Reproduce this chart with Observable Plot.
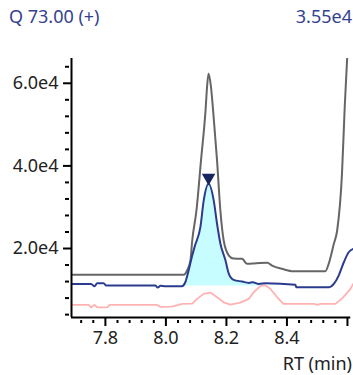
<!DOCTYPE html>
<html>
<head>
<meta charset="utf-8">
<script src="https://cdn.jsdelivr.net/npm/d3@7"></script>
<script src="https://cdn.jsdelivr.net/npm/@observablehq/plot@0.6"></script>
<style>
  html, body { margin: 0; padding: 0; background: #fff; }
  #wrap { position: relative; width: 353px; height: 375px; font-family: "Noto Sans", "Open Sans", sans-serif; }
  .t { position: absolute; font-size: 18px; white-space: nowrap; line-height: 1; }
  #title { left: 9px; top: 7px; color: #34418f; }
  #maxv { right: 1px; top: 7px; color: #34418f; }
  #xlab { right: 1px; top: 354px; color: #222; }
</style>
</head>
<body>
<div id="wrap">
  <div id="chart"></div>
  <div class="t" id="title">Q 73.00 (+)</div>
  <div class="t" id="maxv">3.55e4</div>
  <div class="t" id="xlab">RT (min)</div>
</div>
<script>
// Gray trace (RT in min, intensity)
const grayRT = [7.688, 8.059, 8.070, 8.081, 8.087, 8.101, 8.116, 8.131, 8.136, 8.141, 8.149, 8.156, 8.169, 8.180, 8.191, 8.208, 8.223, 8.252, 8.268, 8.285, 8.335, 8.351, 8.384, 8.422, 8.527, 8.538, 8.555, 8.566, 8.582, 8.591, 8.599, 8.605];
const grayV  = [13620, 13620, 14670, 17090, 21940, 29210, 41330, 53450, 59100, 62350, 59100, 53450, 41330, 29210, 21940, 18300, 17580, 17500, 16290, 16360, 16530, 15880, 15080, 14500, 14500, 16290, 21140, 24360, 38180, 54250, 65990, 75000];

// Blue trace
const blueRT = [7.688, 7.753, 7.764, 7.773, 7.794, 7.803, 7.965, 7.973, 7.982, 7.998, 8.053, 8.064, 8.075, 8.087, 8.096, 8.114, 8.125, 8.141, 8.158, 8.169, 8.180, 8.197, 8.208, 8.224, 8.252, 8.274, 8.287, 8.307, 8.329, 8.428, 8.431, 8.538, 8.555, 8.571, 8.588, 8.604, 8.619];
const blueV  = [11440, 11440, 10860, 11590, 11590, 11030, 11030, 10540, 10960, 10860, 10860, 11830, 14670, 18300, 20700, 25160, 31640, 35680, 31640, 25990, 21210, 17090, 13870, 12410, 12000, 11680, 11830, 11440, 11590, 11200, 10620, 10620, 11440, 13450, 16680, 19100, 19930];

// Pink trace
const pinkRT = [7.688, 7.745, 7.753, 7.764, 7.773, 7.806, 7.814, 7.971, 7.982, 8.020, 8.054, 8.087, 8.103, 8.125, 8.147, 8.169, 8.191, 8.213, 8.246, 8.274, 8.290, 8.312, 8.326, 8.345, 8.368, 8.388, 8.489, 8.500, 8.511, 8.560, 8.582, 8.610, 8.619];
const pinkV  = [6350, 6350, 5770, 6350, 5770, 5770, 6350, 6350, 5870, 5940, 6590, 6670, 7810, 9020, 9330, 8190, 6980, 6420, 6910, 7810, 9410, 10910, 11150, 10230, 8190, 6590, 6590, 6350, 6590, 6590, 7880, 10230, 11440];

// Integrated peak range and baseline, apex
const peakRange = [8.053, 8.329];
const peakBase = 10900;
const apexRT = [8.141];
const apexV = [35680];

// Axes
const xDomain = [7.688, 8.62];
const yDomain = [3300, 66000];
const xMajor = [7.8, 8.0, 8.2, 8.4, 8.6];
const xMajorLabels = ["7.8", "8.0", "8.2", "8.4", ""];
const xMinor = [7.72, 7.76, 7.84, 7.88, 7.92, 7.96, 8.04, 8.08, 8.12, 8.16, 8.24, 8.28, 8.32, 8.36, 8.44, 8.48, 8.52, 8.56];
const yMajor = [20000, 40000, 60000];
const yMajorLabels = ["2.0e4", "4.0e4", "6.0e4"];
const yMinor = [4000, 8000, 12000, 16000, 24000, 28000, 32000, 36000, 44000, 48000, 52000, 56000, 64000];

const rows = (rt, v) => rt.map((t, i) => ({rt: t, v: v[i]}));
const gray = rows(grayRT, grayV);
const blue = rows(blueRT, blueV);
const pink = rows(pinkRT, pinkV);
const peak = blue.filter(d => d.rt >= peakRange[0] && d.rt <= peakRange[1]);
const apex = rows(apexRT, apexV);

const chart = Plot.plot({
  width: 353,
  height: 375,
  marginTop: 58,
  marginBottom: 58,
  marginLeft: 71,
  marginRight: 0,
  x: {domain: xDomain},
  y: {domain: yDomain},
  style: {fontFamily: "'Noto Sans', 'Open Sans', sans-serif", fontSize: "18px", color: "#222", background: "#fff"},
  marks: [
    Plot.areaY(peak, {x: "rt", y1: peakBase, y2: "v", fill: "#c8fdff", curve: "monotone-x"}),
    Plot.lineY(pink, {x: "rt", y: "v", stroke: "#ffb2b2", strokeWidth: 1.8, clip: true}),
    Plot.lineY(gray, {x: "rt", y: "v", stroke: "#666666", strokeWidth: 2, clip: true, curve: "monotone-x"}),
    Plot.lineY(blue, {x: "rt", y: "v", stroke: "#2b3c8e", strokeWidth: 2, clip: true, curve: "monotone-x"}),
    Plot.dot(apex, {x: "rt", y: "v", symbol: "triangle", rotate: 180, r: 5, fill: "#16245f", stroke: null, dy: -6}),
    Plot.axisY({ticks: yMajor, tickSize: 8, tickPadding: 5, tickFormat: d => yMajorLabels[yMajor.indexOf(d)], label: null, stroke: "#000", strokeWidth: 2}),
    Plot.axisY({ticks: yMinor, tickSize: 4, tickFormat: () => "", label: null, dx: -2, stroke: "#000", strokeWidth: 2}),
    Plot.axisX({ticks: xMajor, tickSize: 9, tickPadding: 5, tickFormat: d => xMajorLabels[xMajor.indexOf(d)], label: null, stroke: "#000", strokeWidth: 2}),
    Plot.axisX({ticks: xMinor, tickSize: 3, tickFormat: () => "", label: null, dy: 3, stroke: "#000", strokeWidth: 2}),
    Plot.ruleX([xDomain[0]], {stroke: "#000", strokeWidth: 2}),
    Plot.ruleY([yDomain[0]], {x1: xDomain[0], x2: 8.611, stroke: "#000", strokeWidth: 2})
  ]
});
document.getElementById("chart").appendChild(chart);
</script>
</body>
</html>
